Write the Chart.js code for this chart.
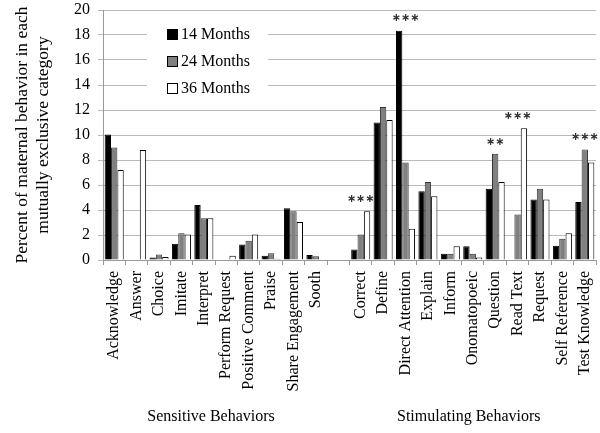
<!DOCTYPE html>
<html lang="en">
<head>
    <meta charset="UTF-8">
    <title>Maternal behavior by age</title>
    <style>
        body {
            margin: 0;
            background: #fff;
        }

        #wrap {
            width: 600px;
            height: 433px;
        }
    </style>
</head>
<body>
    <div id="wrap">
        <canvas id="chart" width="600" height="433"></canvas>
    </div>

    <script src="https://cdn.jsdelivr.net/npm/chart.js"></script>
    <script>
        // categories (blank one is the gap between the two groups)
        const categories = ['Acknowledge', 'Answer', 'Choice', 'Imitate', 'Interpret', 'Perform Request',
            'Positive Comment', 'Praise', 'Share Engagement', 'Sooth', '',
            'Correct', 'Define', 'Direct Attention', 'Explain', 'Inform', 'Onomatopoeic',
            'Question', 'Read Text', 'Request', 'Self Reference', 'Test Knowledge'];

        const months14 = [10.05, 0, 0.2, 1.3, 4.4, 0, 1.25, 0.35, 4.15, 0.4, null,
            0.85, 11.0, 18.35, 5.5, 0.5, 1.1, 5.7, 0, 4.85, 1.15, 4.65];
        const months24 = [9.0, 0, 0.45, 2.15, 3.35, 0, 1.55, 0.55, 3.9, 0.3, null,
            2.05, 12.25, 7.8, 6.25, 0.5, 0.5, 8.5, 3.65, 5.7, 1.7, 8.85];
        const months36 = [7.2, 8.8, 0.25, 2.05, 3.35, 0.35, 2.05, 0.1, 3.05, 0, null,
            3.9, 11.2, 2.5, 5.1, 1.1, 0.2, 6.25, 10.55, 4.85, 2.15, 7.8];

        // significance marks
        const stars = ['', '', '', '', '', '', '', '', '', '', '',
            '***', '', '***', '', '', '', '**', '***', '', '', '***'];

        const groups = [
            { label: 'Sensitive Behaviors', from: 0, to: 9 },
            { label: 'Stimulating Behaviors', from: 11, to: 21 }
        ];

        const serif = "'Liberation Serif', 'Times New Roman', serif";
        Chart.defaults.font.family = serif;
        Chart.defaults.font.size = 16;
        Chart.defaults.color = '#000';

        // legend box, stars and group names
        const extras = {
            id: 'extras',
            afterDatasetsDraw(chart) {
                const ctx = chart.ctx;
                const x = chart.scales.x;
                const y = chart.scales.y;
                ctx.save();

                // stars above the tallest bar
                ctx.font = "bold 11px 'DejaVu Sans'";
                ctx.textAlign = 'center';
                ctx.textBaseline = 'middle';
                ctx.fillStyle = '#333';
                stars.forEach((s, i) => {
                    if (!s) return;
                    const top = Math.max(months14[i], months24[i], months36[i]);
                    const txt = s.replace(/\*/g, '\u2217');
                    ctx.fillText(txt, x.getPixelForValue(i), y.getPixelForValue(top) - 12);
                });

                // legend
                ctx.fillStyle = '#fff';
                ctx.fillRect(147, 16, 121, 84);
                ctx.font = '16px ' + serif;
                ctx.textAlign = 'left';
                chart.data.datasets.forEach((ds, i) => {
                    const ly = 35 + i * 27;
                    ctx.fillStyle = ds.backgroundColor;
                    ctx.fillRect(167.5, ly - 5.5, 10, 10);
                    ctx.strokeStyle = '#000';
                    ctx.lineWidth = 1;
                    ctx.strokeRect(167.5, ly - 5.5, 10, 10);
                    ctx.fillStyle = '#000';
                    ctx.fillText(ds.label, 181, ly);
                });

                // group names under the axis
                ctx.textAlign = 'center';
                groups.forEach(g => {
                    const cx = (x.getPixelForValue(g.from) + x.getPixelForValue(g.to)) / 2;
                    ctx.fillText(g.label, cx - 4, 417);
                });
                ctx.restore();
            }
        };

        new Chart(document.getElementById('chart'), {
            type: 'bar',
            data: {
                labels: categories,
                datasets: [{
                    label: '14 Months',
                    data: months14,
                    backgroundColor: '#000',
                    borderColor: '#000',
                    borderWidth: 1
                }, {
                    label: '24 Months',
                    data: months24,
                    backgroundColor: '#808080',
                    borderColor: '#333',
                    borderWidth: 1
                }, {
                    label: '36 Months',
                    data: months36,
                    backgroundColor: '#fff',
                    borderColor: '#000',
                    borderWidth: 1
                }]
            },
            options: {
                responsive: false,
                animation: false,
                layout: { padding: { top: 10, right: 4, left: 0, bottom: 0 } },
                datasets: {
                    bar: { categoryPercentage: 0.85, barPercentage: 1.0 }
                },
                plugins: {
                    legend: { display: false },
                    tooltip: { enabled: false }
                },
                scales: {
                    x: {
                        grid: {
                            drawOnChartArea: false,
                            offset: true,
                            color: '#999',
                            tickLength: 5
                        },
                        border: { color: '#999' },
                        ticks: {
                            minRotation: 90,
                            maxRotation: 90,
                            autoSkip: false,
                            padding: 6,
                            font: { family: serif, size: 16 }
                        },
                        afterFit(scale) {
                            scale.height = 173;
                            scale.paddingLeft = 0;
                            scale.paddingRight = 0;
                        }
                    },
                    y: {
                        min: 0,
                        max: 20,
                        ticks: { stepSize: 2, padding: 8, font: { family: serif, size: 16 } },
                        grid: { color: '#bbb', tickLength: 5 },
                        border: { color: '#999' },
                        title: {
                            display: true,
                            text: ['Percent of maternal behavior in each', 'mutually exclusive category'],
                            font: { family: serif, size: 17.5, lineHeight: 1.2 },
                            padding: { top: 12, bottom: 0 }
                        },
                        afterFit(scale) {
                            scale.width = 103;
                            scale.paddingTop = 0;
                            scale.paddingBottom = 0;
                        }
                    }
                }
            },
            plugins: [extras]
        });
    </script>
</body>
</html>
